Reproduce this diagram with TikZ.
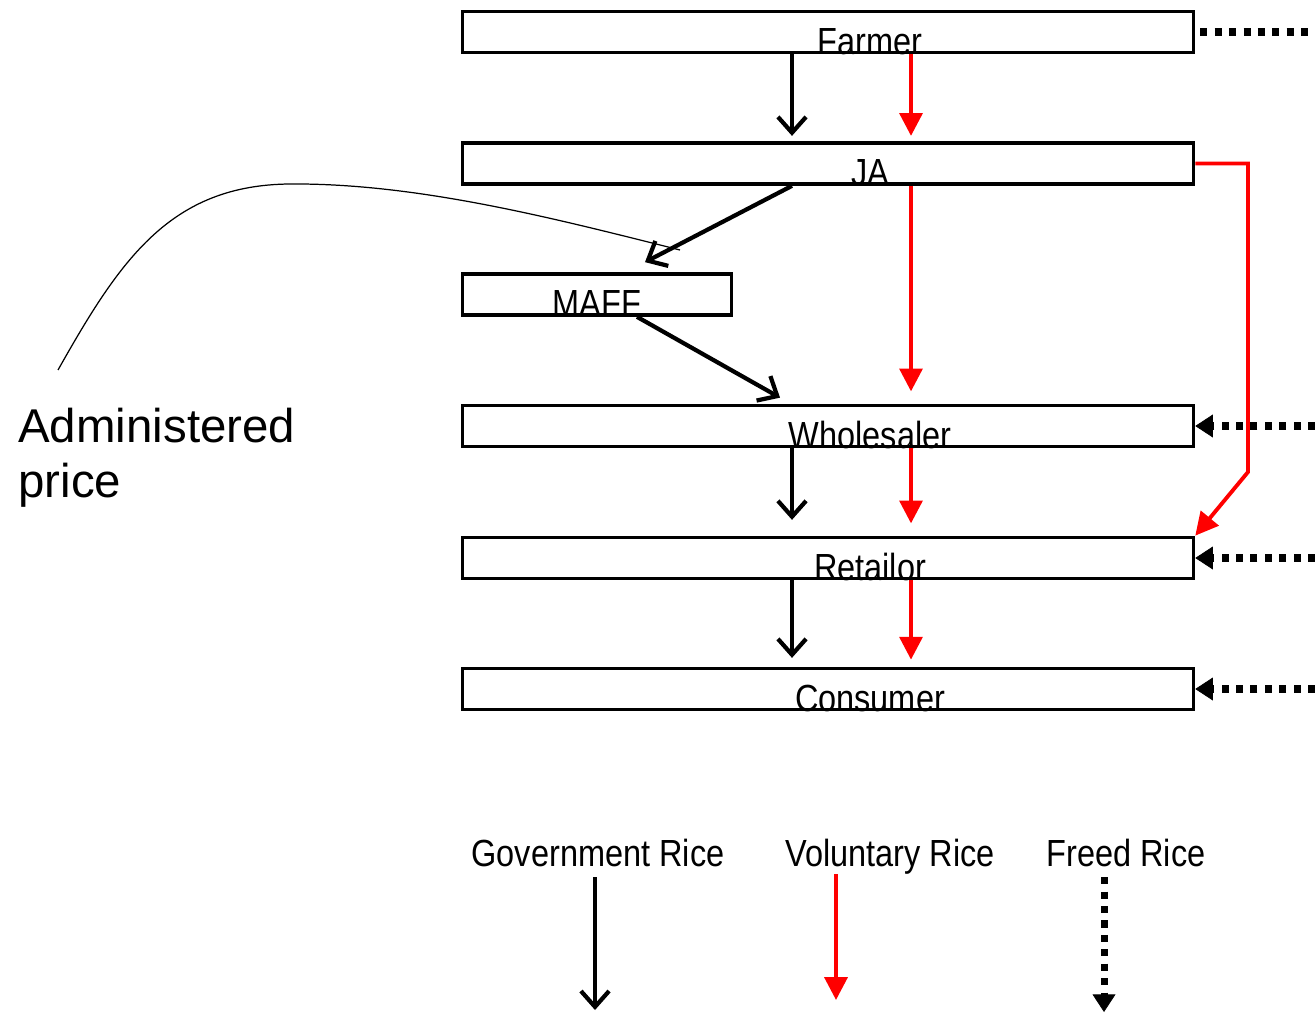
\documentclass[tikz,border=0pt]{standalone}
\usepackage{fontspec}
\setmainfont{Liberation Sans}
\newfontfamily\narrowsans[FakeStretch=0.86]{Liberation Sans}
\usetikzlibrary{arrows.meta}

\begin{document}
\begin{tikzpicture}[x=0.02cm,y=-0.02cm,
  stage/.style={draw,line width=2.1pt,minimum width=14.62cm,minimum height=0.82cm,inner sep=0},
  stagename/.style={anchor=base,inner sep=0,font=\narrowsans\fontsize{21.5}{24}\selectfont},
  gov/.style={line width=2.4pt,-{Straight Barb[length=9pt,width=16pt]}},
  vol/.style={red,line width=2.2pt,-{Triangle[length=13pt,width=13pt]}},
  freed/.style={line width=4pt,dash pattern=on 4pt off 4.2pt,
    -{Triangle[length=10pt,width=13pt,line width=0.4pt]}}]
\useasboundingbox (0,0) rectangle (1315,1013);
\coordinate (gx) at (792,0);
\coordinate (vx) at (911,0);
\coordinate (lx) at (870,0);
\coordinate (edge) at (1315,0);
\coordinate (bend) at (1248,472);

% the chain of stages
\node[stage] (farmer) at (828,32) {};
\node[stage] (ja) at (828,163.5) {};
\node[stage,minimum width=5.38cm] (maff) at (597,294.5) {};
\node[stage] (wholesaler) at (828,426) {};
\node[stage] (retailor) at (828,558) {};
\node[stage] (consumer) at (828,689) {};
\node[stagename] (farmerlbl) at (farmer.south -| lx) {Farmer};
\node[stagename] (jalbl) at (ja.south -| lx) {JA};
\node[stagename] (mafflbl) at (maff.south) {MAFF};
\node[stagename] (wholesalerlbl) at (wholesaler.south -| lx) {Wholesaler};
\node[stagename] (retailorlbl) at (retailor.south -| lx) {Retailor};
\node[stagename] (consumerlbl) at (consumer.south -| lx) {Consumer};

% government rice
\draw[gov,shorten >=3pt] (farmer.south -| gx) -- (ja.north -| gx);
\draw[gov] (ja.south -| gx) -- ([xshift=0.96cm,yshift=0.2cm]maff.north);
\draw[gov] ([xshift=0.8cm]maff.south) -- ([xshift=-0.96cm,yshift=0.12cm]wholesaler.north);
\draw[gov,shorten >=9pt] (wholesaler.south -| gx) -- (retailor.north -| gx);
\draw[gov,shorten >=5pt] (retailor.south -| gx) -- (consumer.north -| gx);

% voluntary rice
\draw[vol,shorten >=3pt] (farmer.south -| vx) -- (ja.north -| vx);
\draw[vol,shorten >=7pt] (ja.south -| vx) -- (wholesaler.north -| vx);
\draw[vol,shorten >=7pt] (wholesaler.south -| vx) -- (retailor.north -| vx);
\draw[vol,shorten >=4pt] (retailor.south -| vx) -- (consumer.north -| vx);
\draw[vol] (ja.east) -| (bend) -- (retailor.north east);

% freed rice
\draw[freed,-] ([xshift=0.1cm]farmer.east) -- (farmer.east -| edge);
\draw[freed] (wholesaler.east -| edge) -- (wholesaler.east);
\draw[freed] (retailor.east -| edge) -- (retailor.east);
\draw[freed] (consumer.east -| edge) -- (consumer.east);

% administered price
\node[anchor=north west,inner sep=0,align=left,font=\fontsize{27}{31}\selectfont]
  (price) at (18,408) {Administered\\price};
\coordinate (pricetip) at (58,370);
\coordinate (mafftip) at (680,250);
\draw[line width=0.7pt] (pricetip) .. controls (120,260) and (170,185) .. (290,184)
  .. controls (420,183) and (560,220) .. (mafftip);

% legend
\node[stagename] (govlbl) at (598,866) {Government Rice};
\node[stagename] (vollbl) at (890,866) {Voluntary Rice};
\node[stagename] (freedlbl) at (1126,866) {Freed Rice};
\coordinate (govend) at (595,1010);
\coordinate (volend) at (836,1000);
\coordinate (freedend) at (1104,1012);
\draw[gov,shorten <=6pt] (govlbl.south -| govend) -- (govend);
\draw[vol] (vollbl.south -| volend) -- (volend);
\draw[freed,shorten <=6pt] (freedlbl.south -| freedend) -- (freedend);
\end{tikzpicture}
\end{document}
